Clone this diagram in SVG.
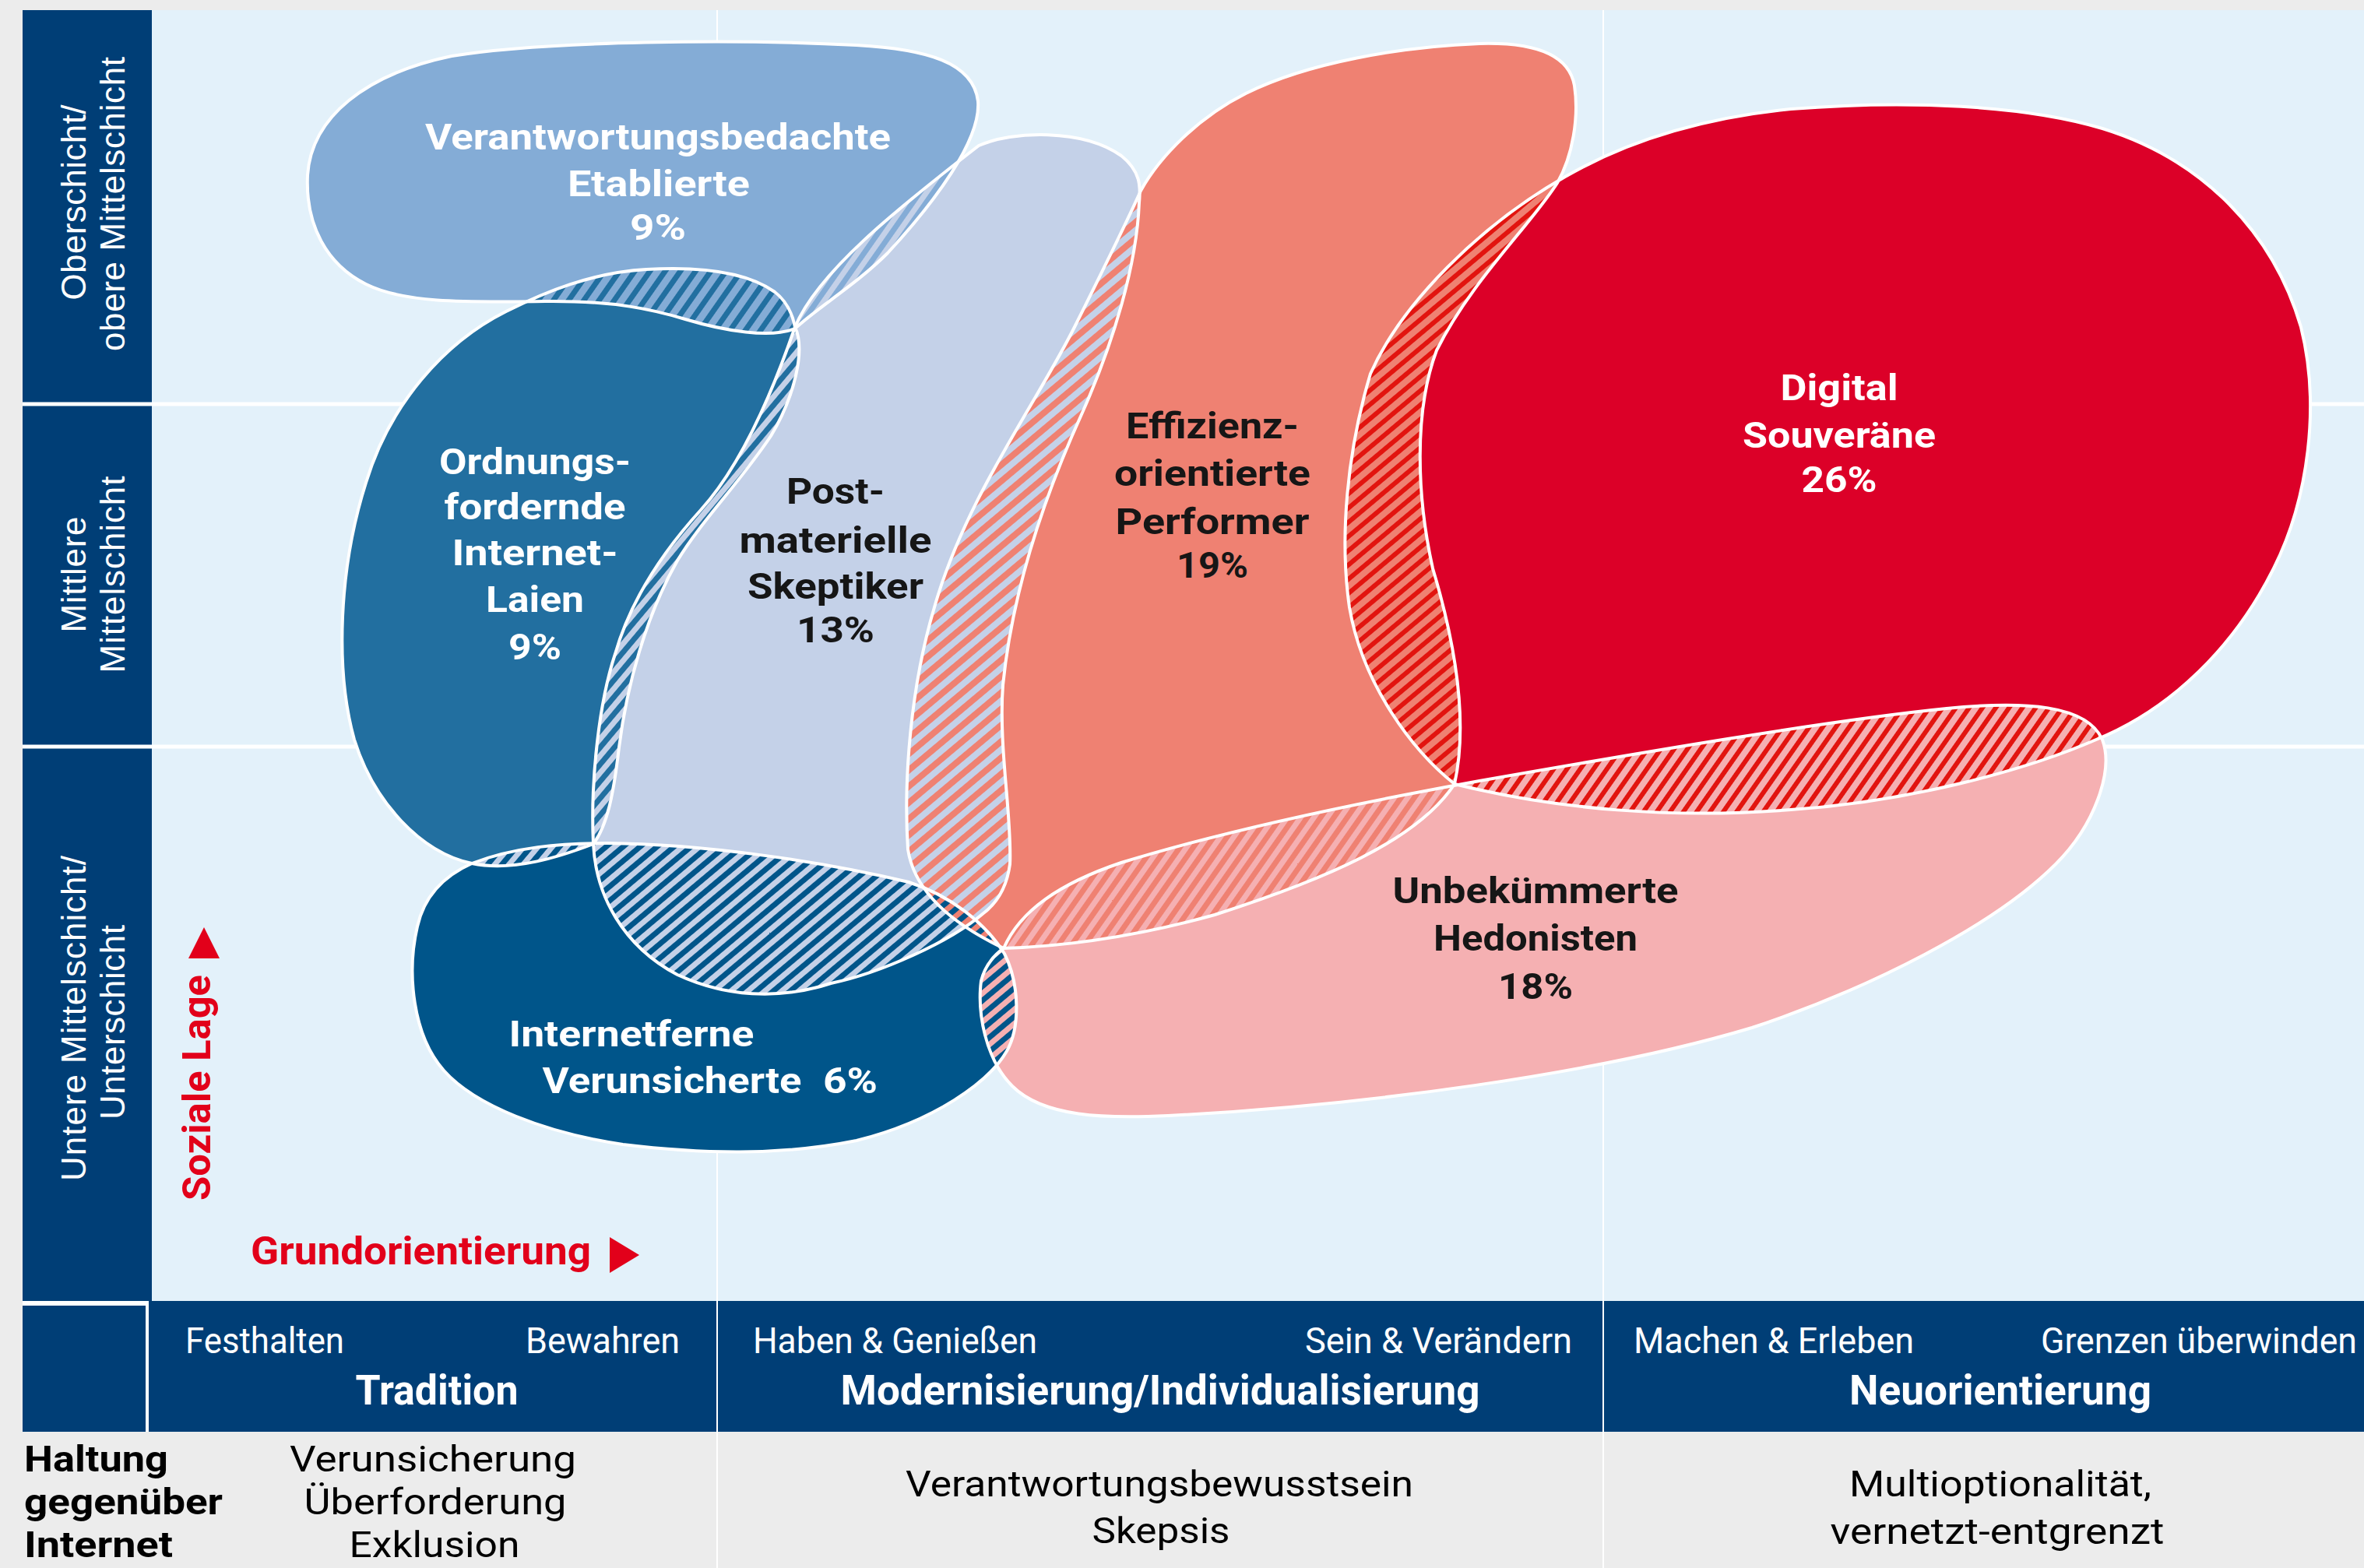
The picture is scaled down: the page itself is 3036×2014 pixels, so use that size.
<svg xmlns="http://www.w3.org/2000/svg" width="3036" height="2014" viewBox="0 0 3036 2014">
  <style>
    .lbl { font-family: Roboto, "Liberation Sans", sans-serif; font-weight: 700; font-size: 46px; text-anchor: middle; }
    .w { fill: #ffffff; }
    .k { fill: #161616; }
    .row { font-family: "Liberation Sans", Arial, sans-serif; font-size: 44px; fill: #ffffff; text-anchor: middle; }
    .hs { font-family: Roboto, "Liberation Sans", sans-serif; font-size: 46px; fill: #ffffff; }
    .hb { font-family: Roboto, "Liberation Sans", sans-serif; font-weight: 700; font-size: 54px; fill: #ffffff; text-anchor: middle; }
    .ft { font-family: Roboto, "Liberation Sans", sans-serif; font-size: 47px; fill: #000000; }
    .ftb { font-family: Roboto, "Liberation Sans", sans-serif; font-weight: 700; font-size: 47px; fill: #000000; }
    .mid { text-anchor: middle; }
    .red { font-family: Roboto, "Liberation Sans", sans-serif; font-weight: 700; font-size: 50px; fill: #e2001a; }
    .outline use { fill: none; stroke: #ffffff; stroke-width: 4; stroke-linejoin: round; }
    .grid { stroke: #ffffff; }
  </style>
  <defs>
    <!-- milieu shapes -->
    <path id="pA" d="M 395,225 C 400,150 470,95 580,72 C 700,52 950,50 1100,58 C 1190,63 1250,80 1256,130 C 1260,180 1200,260 1140,325 C 1100,365 1050,395 1021,422 C 990,435 930,425 880,410 C 840,398 790,386 700,387 C 600,388 520,390 470,365 C 420,340 392,290 395,225 Z"/>
    <path id="pB" d="M 1021,420 C 1035,450 1020,510 990,560 C 950,620 900,670 870,720 C 830,790 805,880 795,960 C 788,1020 780,1060 762,1084 C 720,1100 660,1120 606,1109 C 540,1095 480,1030 455,950 C 430,860 435,730 470,620 C 500,520 570,440 650,400 C 700,375 760,350 830,346 C 900,342 960,350 995,375 C 1012,388 1018,405 1021,420 Z"/>
    <path id="pC" d="M 606,1109 C 660,1088 720,1083 780,1083 C 900,1084 1050,1105 1167,1133 C 1220,1150 1265,1185 1290,1225 C 1310,1265 1310,1320 1293,1350 C 1270,1390 1200,1440 1100,1465 C 1000,1485 900,1482 800,1470 C 700,1455 610,1420 570,1375 C 530,1330 522,1250 536,1190 C 545,1150 570,1125 606,1109 Z"/>
    <path id="pD" d="M 1257,187 C 1300,168 1390,165 1440,200 C 1465,220 1465,240 1463,260 C 1460,340 1430,440 1390,530 C 1340,640 1300,760 1288,880 C 1282,960 1300,1050 1297,1110 C 1293,1140 1280,1160 1263,1173 C 1220,1210 1130,1250 1067,1263 C 1000,1285 930,1280 870,1252 C 800,1215 765,1150 762,1084 C 758,1000 770,900 790,840 C 810,770 850,710 900,655 C 950,600 990,510 1021,420 C 1050,350 1150,270 1257,187 Z"/>
    <path id="pE" d="M 1465,245 C 1490,200 1540,150 1600,120 C 1680,80 1800,60 1900,56 C 1970,54 2015,70 2022,110 C 2028,150 2020,200 2000,235 C 1965,290 1890,360 1845,450 C 1815,530 1820,640 1840,730 C 1870,830 1885,930 1868,1007 C 1820,1080 1700,1130 1560,1175 C 1470,1200 1380,1215 1289,1218 C 1230,1190 1175,1150 1166,1091 C 1160,1000 1170,880 1200,780 C 1240,640 1330,520 1380,420 C 1420,340 1445,290 1465,245 Z"/>
    <path id="pF" d="M 1289,1218 C 1310,1170 1360,1135 1440,1108 C 1580,1065 1750,1030 1900,1003 C 2100,968 2350,925 2500,910 C 2600,900 2680,905 2700,950 C 2715,990 2690,1060 2640,1110 C 2560,1190 2400,1270 2250,1320 C 2050,1380 1750,1420 1500,1433 C 1420,1437 1340,1435 1300,1395 C 1265,1360 1255,1300 1260,1260 C 1265,1240 1275,1228 1289,1218 Z"/>
    <path id="pG" d="M 2010,227 C 2100,175 2200,150 2300,140 C 2450,128 2600,135 2700,165 C 2830,205 2920,300 2955,420 C 2980,520 2965,640 2920,730 C 2870,830 2790,910 2692,950 C 2600,990 2450,1030 2300,1040 C 2150,1052 2000,1040 1868,1007 C 1815,965 1750,880 1733,780 C 1720,690 1730,580 1760,480 C 1800,390 1900,290 2010,227 Z"/>

    <clipPath id="cA"><use href="#pA"/></clipPath>
    <clipPath id="cB"><use href="#pB"/></clipPath>
    <clipPath id="cC"><use href="#pC"/></clipPath>
    <clipPath id="cD"><use href="#pD"/></clipPath>
    <clipPath id="cE"><use href="#pE"/></clipPath>
    <clipPath id="cG"><use href="#pG"/></clipPath>

    <!-- overlap hatchings: two-colour diagonal stripes -->
    <pattern id="hAB" patternUnits="userSpaceOnUse" width="16" height="16" patternTransform="rotate(35)"><rect width="16" height="16" fill="#84acd6"/><rect width="7" height="16" fill="#226fa0"/></pattern>
    <pattern id="hAD" patternUnits="userSpaceOnUse" width="14" height="14" patternTransform="rotate(35)"><rect width="14" height="14" fill="#c4d1e8"/><rect width="7" height="14" fill="#84acd6"/></pattern>
    <pattern id="hBD" patternUnits="userSpaceOnUse" width="14" height="14" patternTransform="rotate(40)"><rect width="14" height="14" fill="#c4d1e8"/><rect width="7" height="14" fill="#226fa0"/></pattern>
    <pattern id="hBC" patternUnits="userSpaceOnUse" width="14" height="14" patternTransform="rotate(40)"><rect width="14" height="14" fill="#c4d1e8"/><rect width="7" height="14" fill="#00558a"/></pattern>
    <pattern id="hCD" patternUnits="userSpaceOnUse" width="14" height="14" patternTransform="rotate(50)"><rect width="14" height="14" fill="#c4d1e8"/><rect width="7" height="14" fill="#00558a"/></pattern>
    <pattern id="hDE" patternUnits="userSpaceOnUse" width="16" height="16" patternTransform="rotate(50)"><rect width="16" height="16" fill="#c4d1e8"/><rect width="8" height="16" fill="#ef8172"/></pattern>
    <pattern id="hCE" patternUnits="userSpaceOnUse" width="14" height="14" patternTransform="rotate(50)"><rect width="14" height="14" fill="#ef8172"/><rect width="7" height="14" fill="#00558a"/></pattern>
    <pattern id="hCF" patternUnits="userSpaceOnUse" width="14" height="14" patternTransform="rotate(50)"><rect width="14" height="14" fill="#f5b0b2"/><rect width="7" height="14" fill="#00558a"/></pattern>
    <pattern id="hEF" patternUnits="userSpaceOnUse" width="14" height="14" patternTransform="rotate(35)"><rect width="14" height="14" fill="#f5b0b2"/><rect width="7" height="14" fill="#ef8172"/></pattern>
    <pattern id="hEG" patternUnits="userSpaceOnUse" width="14" height="14" patternTransform="rotate(50)"><rect width="14" height="14" fill="#ef8172"/><rect width="6" height="14" fill="#e2140f"/></pattern>
    <pattern id="hFG" patternUnits="userSpaceOnUse" width="14" height="14" patternTransform="rotate(35)"><rect width="14" height="14" fill="#f5b0b2"/><rect width="6" height="14" fill="#e2140f"/></pattern>
  </defs>

  <!-- page and chart frame -->
  <rect width="3036" height="2014" fill="#ececec"/>
  <rect x="195" y="13" width="2841" height="1658" fill="#e3f1fa"/>
  <rect x="29" y="13" width="166" height="1658" fill="#003e76"/>
  <g class="grid">
    <line x1="921" y1="13" x2="921" y2="2014" stroke-width="2"/>
    <line x1="2059" y1="13" x2="2059" y2="2014" stroke-width="2"/>
    <line x1="29" y1="519" x2="3036" y2="519" stroke-width="5"/>
    <line x1="29" y1="959" x2="3036" y2="959" stroke-width="5"/>
  </g>

  <!-- row labels: soziale Lage -->
  <g id="row-labels">
    <text class="row" transform="translate(110,260) rotate(-90)" textLength="251" lengthAdjust="spacing">Oberschicht/</text>
    <text class="row" transform="translate(160,262) rotate(-90)" textLength="378" lengthAdjust="spacing">obere Mittelschicht</text>
    <text class="row" transform="translate(110,738) rotate(-90)" textLength="149" lengthAdjust="spacing">Mittlere</text>
    <text class="row" transform="translate(160,738) rotate(-90)" textLength="253" lengthAdjust="spacing">Mittelschicht</text>
    <text class="row" transform="translate(110,1308) rotate(-90)" textLength="418" lengthAdjust="spacing">Untere Mittelschicht/</text>
    <text class="row" transform="translate(160,1313) rotate(-90)" textLength="250" lengthAdjust="spacing">Unterschicht</text>
  </g>

  <!-- axis hints -->
  <g id="axis-soziale-lage">
    <text class="red" transform="translate(270,1542) rotate(-90)" textLength="290" lengthAdjust="spacingAndGlyphs">Soziale Lage</text>
    <polygon points="262,1191 242,1231 282,1231" fill="#e2001a"/>
  </g>
  <g id="axis-grundorientierung">
    <text class="red" x="322" y="1624" textLength="437" lengthAdjust="spacingAndGlyphs">Grundorientierung</text>
    <polygon points="783,1589 783,1635 821,1612" fill="#e2001a"/>
  </g>

  <!-- milieus -->
  <g id="node-verantwortungsbedachte-etablierte">
    <use href="#pA" fill="#84acd6"/>
    <text class="lbl w" x="845" y="192" textLength="598" lengthAdjust="spacingAndGlyphs">Verantwortungsbedachte</text>
    <text class="lbl w" x="846" y="252" textLength="234" lengthAdjust="spacingAndGlyphs">Etablierte</text>
    <text class="lbl w" x="845" y="308" textLength="72" lengthAdjust="spacingAndGlyphs">9%</text>
  </g>
  <g id="node-ordnungsfordernde-internet-laien">
    <use href="#pB" fill="#226fa0"/>
    <text class="lbl w" x="687" y="609" textLength="246" lengthAdjust="spacingAndGlyphs">Ordnungs-</text>
    <text class="lbl w" x="687" y="667" textLength="233" lengthAdjust="spacingAndGlyphs">fordernde</text>
    <text class="lbl w" x="687" y="726" textLength="213" lengthAdjust="spacingAndGlyphs">Internet-</text>
    <text class="lbl w" x="687" y="786" textLength="126" lengthAdjust="spacingAndGlyphs">Laien</text>
    <text class="lbl w" x="687" y="847" textLength="68" lengthAdjust="spacingAndGlyphs">9%</text>
  </g>
  <g id="node-postmaterielle-skeptiker">
    <use href="#pD" fill="#c4d1e8"/>
    <text class="lbl k" x="1073" y="647" textLength="126" lengthAdjust="spacingAndGlyphs">Post-</text>
    <text class="lbl k" x="1073" y="710" textLength="247" lengthAdjust="spacingAndGlyphs">materielle</text>
    <text class="lbl k" x="1073" y="769" textLength="226" lengthAdjust="spacingAndGlyphs">Skeptiker</text>
    <text class="lbl k" x="1073" y="825" textLength="100" lengthAdjust="spacingAndGlyphs">13%</text>
  </g>
  <g id="node-internetferne-verunsicherte">
    <use href="#pC" fill="#00558a"/>
    <text class="lbl w" x="811" y="1344" textLength="315" lengthAdjust="spacingAndGlyphs">Internetferne</text>
    <text class="lbl w" x="863" y="1404" textLength="333" lengthAdjust="spacingAndGlyphs">Verunsicherte</text>
    <text class="lbl w" x="1092" y="1404" textLength="70" lengthAdjust="spacingAndGlyphs">6%</text>
  </g>
  <g id="node-effizienzorientierte-performer">
    <use href="#pE" fill="#ef8172"/>
    <text class="lbl k" x="1557" y="563" textLength="222" lengthAdjust="spacingAndGlyphs">Effizienz-</text>
    <text class="lbl k" x="1557" y="624" textLength="252" lengthAdjust="spacingAndGlyphs">orientierte</text>
    <text class="lbl k" x="1557" y="686" textLength="249" lengthAdjust="spacingAndGlyphs">Performer</text>
    <text class="lbl k" x="1557" y="742" textLength="92" lengthAdjust="spacingAndGlyphs">19%</text>
  </g>
  <g id="node-unbekuemmerte-hedonisten">
    <use href="#pF" fill="#f5b0b2"/>
    <text class="lbl k" x="1972" y="1160" textLength="367" lengthAdjust="spacingAndGlyphs">Unbekümmerte</text>
    <text class="lbl k" x="1972" y="1221" textLength="262" lengthAdjust="spacingAndGlyphs">Hedonisten</text>
    <text class="lbl k" x="1972" y="1283" textLength="96" lengthAdjust="spacingAndGlyphs">18%</text>
  </g>
  <g id="node-digital-souveraene">
    <use href="#pG" fill="#dc0028"/>
    <text class="lbl w" x="2362" y="514" textLength="151" lengthAdjust="spacingAndGlyphs">Digital</text>
    <text class="lbl w" x="2362" y="575" textLength="248" lengthAdjust="spacingAndGlyphs">Souveräne</text>
    <text class="lbl w" x="2362" y="632" textLength="97" lengthAdjust="spacingAndGlyphs">26%</text>
  </g>

  <!-- overlaps between milieus -->
  <g id="overlaps">
    <g clip-path="url(#cA)"><use href="#pB" fill="url(#hAB)"/></g>
    <g clip-path="url(#cA)"><use href="#pD" fill="url(#hAD)"/></g>
    <g clip-path="url(#cB)"><use href="#pD" fill="url(#hBD)"/></g>
    <g clip-path="url(#cB)"><use href="#pC" fill="url(#hBC)"/></g>
    <g clip-path="url(#cC)"><use href="#pD" fill="url(#hCD)"/></g>
    <g clip-path="url(#cD)"><use href="#pE" fill="url(#hDE)"/></g>
    <g clip-path="url(#cC)"><use href="#pE" fill="url(#hCE)"/></g>
    <g clip-path="url(#cE)"><use href="#pG" fill="url(#hEG)"/></g>
    <g clip-path="url(#cE)"><use href="#pF" fill="url(#hEF)"/></g>
    <g clip-path="url(#cG)"><use href="#pF" fill="url(#hFG)"/></g>
    <g clip-path="url(#cC)"><use href="#pF" fill="url(#hCF)"/></g>
  </g>

  <!-- white contours of all milieus -->
  <g class="outline" id="contours">
    <use href="#pA"/><use href="#pB"/><use href="#pC"/><use href="#pD"/>
    <use href="#pE"/><use href="#pF"/><use href="#pG"/>
  </g>

  <!-- header band: Grundorientierung -->
  <g id="header">
    <rect x="29" y="1671" width="3007" height="168" fill="#003e76"/>
    <rect x="29" y="1671" width="162" height="6" fill="#ffffff"/>
    <rect x="187" y="1671" width="4" height="168" fill="#ffffff"/>
    <line x1="921" y1="1671" x2="921" y2="2014" stroke="#ffffff" stroke-width="2"/>
    <line x1="2059" y1="1671" x2="2059" y2="2014" stroke="#ffffff" stroke-width="2"/>
    <text class="hs" x="238" y="1738" textLength="204" lengthAdjust="spacingAndGlyphs">Festhalten</text>
    <text class="hs" x="675" y="1738" textLength="198" lengthAdjust="spacingAndGlyphs">Bewahren</text>
    <text class="hb" x="561" y="1804" textLength="209" lengthAdjust="spacingAndGlyphs">Tradition</text>
    <text class="hs" x="967" y="1738" textLength="365" lengthAdjust="spacingAndGlyphs">Haben &amp; Genießen</text>
    <text class="hs" x="1676" y="1738" textLength="343" lengthAdjust="spacingAndGlyphs">Sein &amp; Verändern</text>
    <text class="hb" x="1490" y="1804" textLength="821" lengthAdjust="spacingAndGlyphs">Modernisierung/Individualisierung</text>
    <text class="hs" x="2098" y="1738" textLength="360" lengthAdjust="spacingAndGlyphs">Machen &amp; Erleben</text>
    <text class="hs" x="2621" y="1738" textLength="406" lengthAdjust="spacingAndGlyphs">Grenzen überwinden</text>
    <text class="hb" x="2569" y="1804" textLength="388" lengthAdjust="spacingAndGlyphs">Neuorientierung</text>
  </g>

  <!-- bottom row: Haltung gegenüber Internet -->
  <g id="attitude-row">
    <text class="ftb" x="31" y="1890" textLength="185" lengthAdjust="spacingAndGlyphs">Haltung</text>
    <text class="ftb" x="31" y="1945" textLength="255" lengthAdjust="spacingAndGlyphs">gegenüber</text>
    <text class="ftb" x="31" y="2000" textLength="191" lengthAdjust="spacingAndGlyphs">Internet</text>
    <text class="ft mid" x="556" y="1890" textLength="368" lengthAdjust="spacingAndGlyphs">Verunsicherung</text>
    <text class="ft mid" x="559" y="1945" textLength="337" lengthAdjust="spacingAndGlyphs">Überforderung</text>
    <text class="ft mid" x="558" y="2000" textLength="219" lengthAdjust="spacingAndGlyphs">Exklusion</text>
    <text class="ft mid" x="1489" y="1922" textLength="652" lengthAdjust="spacingAndGlyphs">Verantwortungsbewusstsein</text>
    <text class="ft mid" x="1491" y="1982" textLength="177" lengthAdjust="spacingAndGlyphs">Skepsis</text>
    <text class="ft mid" x="2569" y="1922" textLength="388" lengthAdjust="spacingAndGlyphs">Multioptionalität,</text>
    <text class="ft mid" x="2565" y="1983" textLength="429" lengthAdjust="spacingAndGlyphs">vernetzt-entgrenzt</text>
  </g>
</svg>
